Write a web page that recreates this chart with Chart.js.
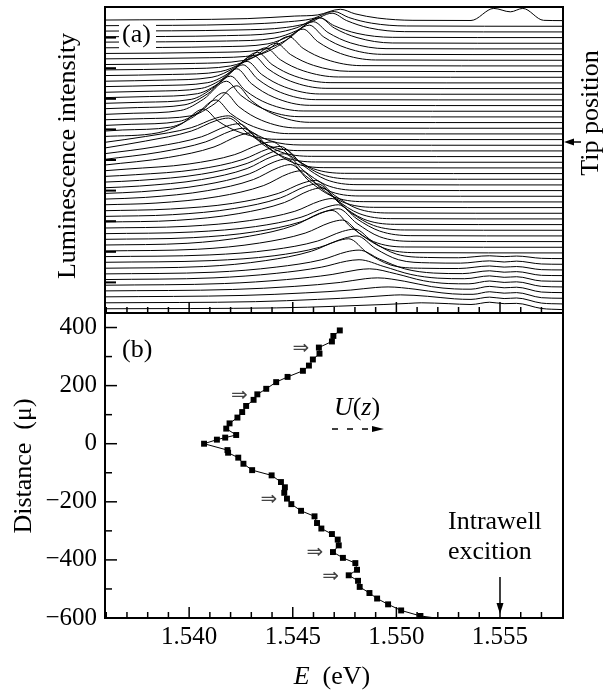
<!DOCTYPE html>
<html lang="en">
<head>
<meta charset="utf-8">
<title>Luminescence vs tip position</title>
<script src="https://cdn.jsdelivr.net/npm/chart.js@4.4.0/dist/chart.umd.min.js"></script>
<style>
body{margin:0;background:#fff}
#wrap{position:relative;width:604px;height:692px}
canvas{position:absolute;left:0;top:0}
</style>
</head>
<body>
<div id="wrap">
  <canvas id="specChart" width="604" height="692"></canvas>
  <canvas id="distChart" width="604" height="692"></canvas>
</div>

<script>
const FONT = '"Liberation Serif","Times New Roman",serif';

/* shared energy axis */
const xMin = 1.53594, xMax = 1.55804;
const xTicks = [1.536,1.537,1.538,1.539,1.540,1.541,1.542,1.543,1.544,1.545,1.546,
                1.547,1.548,1.549,1.550,1.551,1.552,1.553,1.554,1.555,1.556,1.557];
const xLabelTicks = [1.540,1.545,1.550,1.555];

/* panel (b): peak energy vs tip distance, top spectrum first */
const yBMin = -600, yBMax = 450;
const yBTicks = [-600,-500,-400,-300,-200,-100,0,100,200,300,400];
const yBLabelTicks = [-600,-400,-200,0,200,400];
const distances = [390,371,352,331,310,290,269,251,230,212,189,170,151,130,109,90,70,52,30,21,14,0,
                   -22,-31,-48,-69,-91,-109,-132,-150,-169,-189,-208,-231,-250,-273,-292,-311,-330,
                   -350,-373,-393,-411,-434,-453,-472,-493,-514,-533,-553,-574,-593];
const energies = [1.54727,1.54696,1.54689,1.54626,1.54629,1.54597,1.54578,1.54549,1.54475,1.54420,
                  1.54372,1.54329,1.54311,1.54275,1.54256,1.54233,1.54195,1.54179,1.54227,1.54174,
                  1.54134,1.54072,1.54185,1.54188,1.54237,1.54262,1.54304,1.54398,1.54443,1.54462,
                  1.54459,1.54472,1.54493,1.54540,1.54605,1.54617,1.54638,1.54689,1.54717,1.54722,
                  1.54694,1.54742,1.54802,1.54810,1.54770,1.54815,1.54823,1.54870,1.54907,1.54960,
                  1.55023,1.55116];
const lineEnd = [1.5520, -601];          // line runs on to the axis
const arrowIdx = [3, 11, 31, 40, 44];    // points marked with ⇒

/* panel (a): spectra, [E, I, E, I, ...], I in units of the stacking step */
const yAMin = -0.6, yAMax = 53.4;
const yATicks = [-0.6,4.8,10.2,15.6,21.0,26.4,31.8,37.2,42.6,48.0,53.4];
const spectra = [
 [1.5359,0.1, 1.5428,0.35, 1.5451,0.8, 1.5462,1.0, 1.5473,2.0, 1.5480,1.2, 1.5491,0.45, 1.5508,0.05, 1.5536,0.02, 1.5547,2.15, 1.5555,1.55, 1.5561,2.15, 1.5571,0.05, 1.5580,0],
 [1.5359,0.1, 1.5425,0.35, 1.5448,0.8, 1.5459,1.3, 1.5470,2.6, 1.5477,1.55, 1.5488,0.55, 1.5505,0.05, 1.5580,0],
 [1.5359,0.15, 1.5424,0.35, 1.5447,0.8, 1.5458,1.65, 1.5469,3.3, 1.5476,2.0, 1.5487,0.7, 1.5504,0.05, 1.5580,0],
 [1.5359,0.15, 1.5418,0.35, 1.5441,0.8, 1.5452,1.75, 1.5463,3.5, 1.5470,2.1, 1.5481,0.75, 1.5498,0.05, 1.5580,0],
 [1.5359,0.2, 1.5418,0.4, 1.5441,0.9, 1.5452,2.25, 1.5463,4.5, 1.5470,2.7, 1.5481,1.0, 1.5498,0.05, 1.5580,0],
 [1.5359,0.2, 1.5415,0.4, 1.5438,0.9, 1.5449,2.4, 1.5460,4.8, 1.5467,2.9, 1.5478,1.05, 1.5495,0.05, 1.5580,0],
 [1.5359,0.2, 1.5413,0.4, 1.5436,0.9, 1.5447,2.6, 1.5458,5.2, 1.5465,3.1, 1.5476,1.15, 1.5493,0.05, 1.5580,0],
 [1.5359,0.25, 1.5410,0.45, 1.5433,0.95, 1.5444,2.75, 1.5455,5.5, 1.5462,3.3, 1.5473,1.2, 1.5490,0.05, 1.5580,0],
 [1.5359,0.25, 1.5403,0.45, 1.5426,0.95, 1.5437,2.6, 1.5448,5.2, 1.5455,3.1, 1.5466,1.15, 1.5483,0.05, 1.5580,0],
 [1.5359,0.3, 1.5397,0.5, 1.5420,1.0, 1.5431,2.5, 1.5442,5.0, 1.5449,3.0, 1.5460,1.1, 1.5477,0.05, 1.5580,0],
 [1.5359,0.3, 1.5392,0.5, 1.5415,1.0, 1.5426,2.6, 1.5437,5.2, 1.5444,3.1, 1.5455,1.15, 1.5472,0.05, 1.5580,0],
 [1.5359,0.3, 1.5388,0.5, 1.5411,1.0, 1.5422,2.7, 1.5433,5.4, 1.5440,3.25, 1.5451,1.2, 1.5468,0.05, 1.5580,0],
 [1.5359,0.35, 1.5386,0.55, 1.5409,1.05, 1.5420,2.9, 1.5431,5.8, 1.5438,3.5, 1.5449,1.3, 1.5466,0.05, 1.5580,0],
 [1.5359,0.35, 1.5383,0.55, 1.5406,1.05, 1.5417,2.9, 1.5428,5.8, 1.5435,3.5, 1.5446,1.3, 1.5463,0.05, 1.5580,0],
 [1.5359,0.4, 1.5381,0.6, 1.5404,1.1, 1.5415,3.1, 1.5426,6.2, 1.5433,3.7, 1.5444,1.35, 1.5461,0.05, 1.5580,0],
 [1.5359,0.4, 1.5378,0.6, 1.5401,1.1, 1.5412,3.25, 1.5423,6.5, 1.5430,3.9, 1.5441,1.45, 1.5458,0.05, 1.5580,0],
 [1.5359,0.45, 1.5375,0.65, 1.5398,1.15, 1.5409,3.1, 1.5420,6.2, 1.5427,3.7, 1.5438,1.35, 1.5455,0.05, 1.5580,0],
 [1.5359,0.45, 1.5373,0.65, 1.5396,1.15, 1.5407,3.15, 1.5418,6.3, 1.5425,3.8, 1.5436,1.4, 1.5453,0.05, 1.5580,0],
 [1.5359,0.5, 1.5378,0.7, 1.5401,1.2, 1.5412,3.25, 1.5423,6.5, 1.5430,3.9, 1.5441,1.45, 1.5458,0.05, 1.5580,0],
 [1.5359,0.5, 1.5372,0.7, 1.5395,1.2, 1.5406,3.15, 1.5417,6.3, 1.5424,3.8, 1.5435,1.4, 1.5452,0.05, 1.5580,0],
 [1.5359,0.5, 1.5368,0.7, 1.5391,1.2, 1.5402,3.0, 1.5413,6.0, 1.5420,3.6, 1.5431,1.3, 1.5448,0.05, 1.5580,0],
 [1.5359,0.55, 1.5385,1.2, 1.5396,2.7, 1.5407,5.4, 1.5414,3.25, 1.5425,1.2, 1.5442,0.05, 1.5580,0],
 [1.5359,0.5, 1.5379,1.55, 1.5401,3.1, 1.5413,4.8, 1.5419,5.2, 1.5428,2.85, 1.5439,0.8, 1.5454,0.05, 1.5580,0],
 [1.5359,0.5, 1.5379,1.75, 1.5401,3.5, 1.5413,5.35, 1.5419,5.8, 1.5428,3.2, 1.5439,0.85, 1.5454,0.05, 1.5580,0],
 [1.5359,0.5, 1.5384,1.75, 1.5406,3.5, 1.5418,5.35, 1.5424,5.8, 1.5433,3.2, 1.5444,0.85, 1.5459,0.05, 1.5580,0],
 [1.5359,0.5, 1.5386,1.8, 1.5408,3.6, 1.5420,5.5, 1.5426,6.0, 1.5435,3.3, 1.5446,0.9, 1.5461,0.05, 1.5580,0],
 [1.5359,0.5, 1.5390,1.85, 1.5412,3.7, 1.5424,5.7, 1.5430,6.2, 1.5439,3.4, 1.5450,0.95, 1.5465,0.05, 1.5580,0],
 [1.5359,0.5, 1.5370,0.8, 1.5400,1.7, 1.5422,3.35, 1.5434,5.15, 1.5440,5.6, 1.5449,3.1, 1.5460,0.85, 1.5475,0.05, 1.5580,0],
 [1.5359,0.5, 1.5374,0.8, 1.5404,1.75, 1.5426,3.5, 1.5438,5.35, 1.5444,5.8, 1.5453,3.2, 1.5464,0.85, 1.5479,0.05, 1.5580,0],
 [1.5359,0.5, 1.5376,0.8, 1.5406,1.9, 1.5428,3.8, 1.5440,5.8, 1.5446,6.3, 1.5455,3.45, 1.5466,0.95, 1.5481,0.05, 1.5580,0],
 [1.5359,0.5, 1.5376,0.8, 1.5406,1.95, 1.5428,3.9, 1.5440,6.0, 1.5446,6.5, 1.5455,3.6, 1.5466,1.0, 1.5481,0.05, 1.5580,0],
 [1.5359,0.5, 1.5377,0.8, 1.5407,2.0, 1.5429,3.95, 1.5441,6.05, 1.5447,6.6, 1.5456,3.65, 1.5467,1.0, 1.5482,0.05, 1.5580,0],
 [1.5359,0.5, 1.5379,0.8, 1.5409,2.0, 1.5431,3.95, 1.5443,6.05, 1.5449,6.6, 1.5458,3.65, 1.5469,1.0, 1.5484,0.05, 1.5580,0],
 [1.5359,0.5, 1.5384,0.8, 1.5414,1.95, 1.5436,3.9, 1.5448,6.0, 1.5454,6.5, 1.5463,3.6, 1.5474,1.0, 1.5489,0.05, 1.5580,0],
 [1.5359,0.45, 1.5391,0.75, 1.5421,1.75, 1.5443,3.5, 1.5455,5.35, 1.5461,5.8, 1.5470,3.2, 1.5481,0.85, 1.5496,0.05, 1.5580,0],
 [1.5359,0.45, 1.5392,0.75, 1.5422,1.85, 1.5444,3.7, 1.5456,5.7, 1.5462,6.2, 1.5471,3.4, 1.5482,0.95, 1.5497,0.05, 1.5580,0],
 [1.5359,0.45, 1.5394,0.75, 1.5424,1.95, 1.5446,3.9, 1.5458,6.0, 1.5464,6.5, 1.5473,3.6, 1.5484,1.0, 1.5499,0.05, 1.5580,0],
 [1.5359,0.4, 1.5399,0.7, 1.5429,1.7, 1.5451,3.35, 1.5463,5.15, 1.5469,5.6, 1.5478,3.1, 1.5489,0.85, 1.5504,0.05, 1.5580,0],
 [1.5359,0.4, 1.5402,0.7, 1.5432,1.65, 1.5454,3.3, 1.5466,5.05, 1.5472,5.5, 1.5481,3.0, 1.5492,0.85, 1.5507,0.05, 1.5580,0],
 [1.5359,0.4, 1.5402,0.7, 1.5432,1.75, 1.5454,3.5, 1.5466,5.35, 1.5472,5.8, 1.5481,3.2, 1.5492,0.85, 1.5507,0.05, 1.5580,0],
 [1.5359,0.4, 1.5399,0.7, 1.5429,1.95, 1.5451,3.9, 1.5463,6.0, 1.5469,6.5, 1.5478,3.6, 1.5489,1.0, 1.5504,0.05, 1.5580,0],
 [1.5359,0.35, 1.5404,0.65, 1.5434,1.75, 1.5456,3.5, 1.5468,5.35, 1.5474,5.8, 1.5483,3.2, 1.5494,0.85, 1.5509,0.05, 1.5580,0],
 [1.5359,0.35, 1.5410,0.65, 1.5440,1.55, 1.5462,3.1, 1.5474,4.8, 1.5480,5.2, 1.5489,2.85, 1.5500,0.8, 1.5515,0.2, 1.5530,0.15, 1.5545,0.5, 1.5552,0.35, 1.5558,0.45, 1.5570,0.05, 1.5580,0],
 [1.5359,0.35, 1.5411,0.65, 1.5441,1.5, 1.5463,3.0, 1.5475,4.6, 1.5481,5.0, 1.5490,2.75, 1.5501,0.8, 1.5516,0.25, 1.5531,0.2, 1.5545,0.6, 1.5552,0.4, 1.5558,0.55, 1.5570,0.05, 1.5580,0],
 [1.5359,0.3, 1.5407,0.6, 1.5437,1.65, 1.5459,3.3, 1.5471,5.05, 1.5477,5.5, 1.5486,3.0, 1.5497,0.9, 1.5512,0.3, 1.5530,0.25, 1.5545,0.7, 1.5552,0.5, 1.5558,0.6, 1.5570,0.05, 1.5580,0],
 [1.5359,0.3, 1.5412,0.6, 1.5442,1.5, 1.5464,2.8, 1.5476,4.2, 1.5482,4.5, 1.5492,2.9, 1.5504,1.2, 1.5518,0.45, 1.5532,0.35, 1.5545,0.85, 1.5552,0.6, 1.5558,0.7, 1.5570,0.05, 1.5580,0],
 [1.5359,0.3, 1.5412,0.6, 1.5442,1.4, 1.5464,2.5, 1.5476,3.55, 1.5482,3.8, 1.5494,2.6, 1.5507,1.2, 1.5520,0.55, 1.5533,0.45, 1.5545,0.95, 1.5552,0.7, 1.5558,0.8, 1.5570,0.05, 1.5580,0],
 [1.5359,0.3, 1.5417,0.6, 1.5447,1.3, 1.5469,2.2, 1.5481,3.0, 1.5487,3.2, 1.5500,2.3, 1.5513,1.1, 1.5525,0.6, 1.5535,0.55, 1.5545,1.05, 1.5552,0.8, 1.5558,0.9, 1.5570,0.1, 1.5580,0],
 [1.5359,0.3, 1.5421,0.55, 1.5451,1.1, 1.5473,1.8, 1.5485,2.45, 1.5491,2.6, 1.5504,2.0, 1.5517,1.05, 1.5528,0.65, 1.5536,0.6, 1.5545,1.1, 1.5552,0.85, 1.5558,0.95, 1.5570,0.1, 1.5580,0],
 [1.5359,0.25, 1.5426,0.5, 1.5456,0.95, 1.5478,1.45, 1.5490,1.9, 1.5496,2.0, 1.5509,1.6, 1.5522,0.95, 1.5532,0.7, 1.5537,0.7, 1.5545,1.15, 1.5552,0.9, 1.5558,1.0, 1.5570,0.1, 1.5580,0],
 [1.5359,0.2, 1.5432,0.4, 1.5462,0.8, 1.5484,1.2, 1.5496,1.5, 1.5502,1.6, 1.5515,1.35, 1.5528,0.9, 1.5536,0.8, 1.5545,1.2, 1.5552,0.95, 1.5558,1.05, 1.5570,0.15, 1.5580,0],
 [1.5359,0.15, 1.5442,0.3, 1.5472,0.6, 1.5494,0.9, 1.5506,1.1, 1.5512,1.2, 1.5525,1.05, 1.5536,0.9, 1.5545,1.3, 1.5552,1.05, 1.5558,1.1, 1.5570,0.2, 1.5580,0]
];

/* ---- drawing helpers ---- */
function seg(ctx,x1,y1,x2,y2){ctx.beginPath();ctx.moveTo(x1,y1);ctx.lineTo(x2,y2);ctx.stroke();}
function head(ctx,x,y,dir,len,half){
  ctx.beginPath();
  if(dir==='left'){ctx.moveTo(x,y);ctx.lineTo(x+len,y-half);ctx.lineTo(x+len,y+half);}
  if(dir==='right'){ctx.moveTo(x,y);ctx.lineTo(x-len,y-half);ctx.lineTo(x-len,y+half);}
  if(dir==='down'){ctx.moveTo(x,y);ctx.lineTo(x-half,y-len);ctx.lineTo(x+half,y-len);}
  ctx.closePath();ctx.fill();
}
function vText(ctx,text,x,y){
  ctx.save();ctx.translate(x,y);ctx.rotate(-Math.PI/2);
  ctx.font='26px '+FONT;ctx.textAlign='center';ctx.textBaseline='alphabetic';
  ctx.fillText(text,0,0);ctx.restore();
}
function mixed(ctx,parts,cx,y){
  const f=it=>(it?'italic ':'')+'26px '+FONT;
  let w=0;
  parts.forEach(([t,it])=>{ctx.font=f(it);w+=ctx.measureText(t).width;});
  let x=cx-w/2;ctx.textAlign='left';ctx.textBaseline='alphabetic';
  parts.forEach(([t,it])=>{ctx.font=f(it);ctx.fillText(t,x,y);x+=ctx.measureText(t).width;});
}

/* ---- panel (a) decorations ---- */
const panelA = {
  id:'panelA',
  afterDraw(chart){
    const {ctx, chartArea:a, scales:{x,y}} = chart;
    ctx.save();
    ctx.strokeStyle='#000';ctx.fillStyle='#000';
    ctx.lineWidth=1.5;
    xTicks.forEach(v=>{
      const px=x.getPixelForValue(v);
      seg(ctx,px,a.bottom,px,a.bottom-(xLabelTicks.includes(v)?11:6));
    });
    ctx.lineWidth=2;
    yATicks.forEach(v=>{const py=y.getPixelForValue(v);seg(ctx,a.left,py,a.left+11,py);});
    ctx.strokeRect(a.left,a.top,a.right-a.left,a.bottom-a.top);

    ctx.fillStyle='#fff';ctx.fillRect(a.left+14,a.top+15,37,29);
    ctx.fillStyle='#000';ctx.font='26px '+FONT;ctx.textAlign='left';ctx.textBaseline='alphabetic';
    ctx.fillText('(a)',a.left+17,a.top+35);

    vText(ctx,'Luminescence intensity',75,156);
    vText(ctx,'Tip position',598,113);
    ctx.lineWidth=1.5;seg(ctx,571,142,581,142);
    head(ctx,a.right+1,142,'left',10,3.5);
    ctx.restore();
  }
};

/* ---- panel (b) decorations ---- */
const panelB = {
  id:'panelB',
  afterDraw(chart){
    const {ctx, chartArea:a, scales:{x,y}} = chart;
    ctx.save();
    ctx.strokeStyle='#000';ctx.fillStyle='#000';
    ctx.lineWidth=1.5;
    xTicks.forEach(v=>{
      const px=x.getPixelForValue(v);
      seg(ctx,px,a.bottom,px,a.bottom-(xLabelTicks.includes(v)?11:6));
    });
    yBTicks.forEach(v=>{
      const py=y.getPixelForValue(v);
      seg(ctx,a.left,py,a.left+(yBLabelTicks.includes(v)?12:7),py);
    });
    ctx.lineWidth=2;
    ctx.strokeRect(a.left,a.top,a.right-a.left,a.bottom-a.top);

    ctx.font='26px '+FONT;ctx.textAlign='left';ctx.textBaseline='alphabetic';
    ctx.fillText('(b)',a.left+17,357);

    // double arrows next to marked points
    ctx.fillStyle='#444';ctx.font='20px "DejaVu Sans"';ctx.textAlign='center';ctx.textBaseline='middle';
    arrowIdx.forEach(i=>{
      ctx.fillText('\u21D2',x.getPixelForValue(energies[i])-18,y.getPixelForValue(distances[i])+1);
    });
    ctx.fillStyle='#000';

    // U(z) with dashed arrow
    mixed(ctx,[['U',true],['(',false],['z',true],[')',false]],357,415);
    ctx.lineWidth=1.5;ctx.setLineDash([6,9]);seg(ctx,332,429,372,429);ctx.setLineDash([]);
    head(ctx,384,429,'right',12,3);

    // intrawell exciton marker
    ctx.font='26px '+FONT;ctx.textAlign='left';ctx.textBaseline='alphabetic';
    ctx.fillText('Intrawell',448,529);
    ctx.fillText('excition',448,559);
    const ex=x.getPixelForValue(1.555);
    ctx.lineWidth=1.5;seg(ctx,ex,577,ex,604);
    head(ctx,ex,614,'down',11,3.5);

    // axis titles
    vText(ctx,'Distance  (\u03BC)',31,466);
    mixed(ctx,[['E',true],['  (eV)',false]],332,684);
    ctx.restore();
  }
};

/* ---- panel (a) chart ---- */
const nSpec = spectra.length;
const specSets = spectra.map((s,k)=>{
  const pts=[];
  for(let i=0;i<s.length;i+=2) pts.push({x:s[i], y:s[i+1]+(nSpec-1-k)});
  return {data:pts, borderColor:'#000', borderWidth:1, pointRadius:0,
          cubicInterpolationMode:'monotone', fill:false};
});

new Chart(document.getElementById('specChart'),{
  type:'line',
  data:{datasets:specSets},
  options:{
    responsive:false, animation:false, events:[], devicePixelRatio:1,
    layout:{padding:{left:105,top:7,right:41,bottom:379}},
    scales:{
      x:{type:'linear',min:xMin,max:xMax,display:false},
      y:{type:'linear',min:yAMin,max:yAMax,display:false}
    },
    plugins:{legend:{display:false},tooltip:{enabled:false}}
  },
  plugins:[panelA]
});

/* ---- panel (b) chart ---- */
const bPoints = energies.map((e,i)=>({x:e,y:distances[i]}));
bPoints.push({x:lineEnd[0],y:lineEnd[1]});

new Chart(document.getElementById('distChart'),{
  type:'line',
  data:{datasets:[{
    data:bPoints, borderColor:'#000', borderWidth:1, tension:0,
    pointStyle:'rect', pointBackgroundColor:'#000', pointBorderWidth:0,
    pointRadius:c=>c.dataIndex<energies.length?4.2:0
  }]},
  options:{
    responsive:false, animation:false, events:[], devicePixelRatio:1,
    layout:{padding:{left:0,top:313,right:41,bottom:0}},
    scales:{
      x:{type:'linear',min:xMin,max:xMax,
         afterBuildTicks:s=>{s.ticks=xTicks.map(v=>({value:v}));},
         afterFit:s=>{s.height=74;},
         grid:{display:false,drawTicks:false},border:{display:false},
         ticks:{autoSkip:false,maxRotation:0,padding:4,color:'#000',
                font:{family:FONT,size:25,lineHeight:1.2},
                callback:v=>xLabelTicks.includes(v)?v.toFixed(3):''}},
      y:{type:'linear',min:yBMin,max:yBMax,
         afterBuildTicks:s=>{s.ticks=yBTicks.map(v=>({value:v}));},
         afterFit:s=>{s.width=105;},
         grid:{display:false,drawTicks:false},border:{display:false},
         ticks:{autoSkip:false,padding:8,color:'#000',
                font:{family:FONT,size:25},
                callback:v=>yBLabelTicks.includes(v)?(v<0?'\u2212'+Math.abs(v):String(v)):''}}
    },
    plugins:{legend:{display:false},tooltip:{enabled:false}}
  },
  plugins:[panelB]
});
</script>
</body>
</html>
